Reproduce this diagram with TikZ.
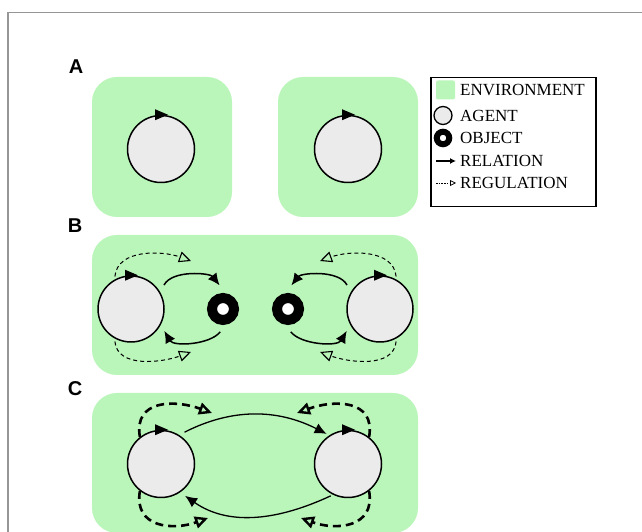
\documentclass[tikz,border=0pt]{standalone}
\usepackage{fontspec}
\setmainfont{Liberation Serif}
\newfontfamily\panelfont{Liberation Sans}
\usetikzlibrary{arrows.meta}

\definecolor{envgreen}{RGB}{186,245,186}
\definecolor{agentgray}{RGB}{235,235,235}
\definecolor{framegray}{RGB}{150,150,150}

% small filled triangle on top of an agent, showing its own cycle
\newcommand{\agentmark}[1]{%
  \fill ([shift={(-6,5.5)}]#1.north) -- ([shift={(7,0)}]#1.north) -- ([shift={(-6,-5.5)}]#1.north) -- cycle;}

\begin{document}
\begin{tikzpicture}[x=1pt,y=1pt,
  env/.style={fill=envgreen, rounded corners=25pt},
  agent/.style={circle, draw=black, line width=1.5pt, fill=agentgray, minimum size=67pt, inner sep=0pt},
  obj/.style={circle, draw=black, fill=white, line width=10pt, minimum size=22pt, inner sep=0pt},
  rel/.style={line width=1.5pt, -{Latex[length=12pt,width=11pt]}},
  reg/.style={line width=1pt, dash pattern=on 4pt off 3pt, -{Triangle[open,length=12pt,width=11pt,line width=1.1pt]}},
  regthick/.style={line width=2.6pt, dash pattern=on 8pt off 5pt, -{Triangle[open,length=13pt,width=12pt,line width=2.4pt]}},
  panel/.style={font=\panelfont\bfseries\fontsize{20}{24}\selectfont, inner sep=0pt},
  lgtext/.style={font=\fontsize{17}{20}\selectfont, anchor=west, inner sep=0pt}
]
\useasboundingbox (0,0) rectangle (642,532);

% frame
\draw[framegray, line width=1.2pt] (8,0) -- (8,519.5) -- (642,519.5);

% panel letters
\node[panel] (labA) at (76,465) {A};
\node[panel] (labB) at (75,306) {B};
\node[panel] (labC) at (75,143) {C};

% ---------------- panel A: two separate environments
\fill[env] (92,315) rectangle (232,455);
\fill[env] (278,315) rectangle (418,455);
\node[agent] (a1) at (161,383) {};
\node[agent] (a2) at (348,383) {};
\agentmark{a1}
\agentmark{a2}

% ---------------- panel B: agents acting on objects
\fill[env] (92,157) rectangle (418,297);
\node[agent, minimum size=66pt] (aL) at (131,223) {};
\node[agent, minimum size=66pt] (aR) at (380,223) {};
\node[obj] (oL) at (223,223) {};
\node[obj] (oR) at (288,223) {};
\agentmark{aL}
\agentmark{aR}

\draw[rel, shorten <=8pt, shorten >=10pt] (aL.30) to[out=62,in=128] (oL.80);
\draw[rel, shorten <=9pt, shorten >=7pt] (oL.280) to[out=232,in=300] (aL.-28);
\draw[rel, shorten <=8pt, shorten >=10pt] (aR.150) to[out=118,in=52] (oR.100);
\draw[rel, shorten <=9pt, shorten >=7pt] (oR.260) to[out=308,in=240] (aR.208);

\coordinate (tL1) at (191,271);
\coordinate (bL1) at (191,180);
\coordinate (tR1) at (320,271);
\coordinate (bR1) at (320,180);
\draw[reg, shorten <=3pt] (aL.119) to[out=85,in=160] (tL1);
\draw[reg, shorten <=3pt] (aL.-119) to[out=275,in=200] (bL1);
\draw[reg, shorten <=3pt] (aR.61) to[out=95,in=20] (tR1);
\draw[reg, shorten <=3pt] (aR.-61) to[out=265,in=340] (bR1);

% ---------------- panel C: agents relating to each other
\fill[env] (92,-1) rectangle (418,139);
\node[agent] (cL) at (161,68) {};
\node[agent] (cR) at (348,68) {};
\agentmark{cL}
\agentmark{cR}

\draw[rel, line width=1.3pt, shorten <=6pt, shorten >=3pt] (cL.58) to[out=27,in=153] (cR.123);
\draw[rel, line width=1.3pt, shorten <=2.5pt, shorten >=6pt] (cR.244) to[out=205,in=325] (cL.-56);

\coordinate (tC1) at (212,119);
\coordinate (bC1) at (208,14);
\coordinate (tC2) at (297,119);
\coordinate (bC2) at (301,14);
\draw[regthick] (cL.128) to[out=100,in=160,looseness=1.3] (tC1);
\draw[regthick] (cL.232) to[out=260,in=200,looseness=1.3] (bC1);
\draw[regthick] (cR.52) to[out=80,in=20,looseness=1.3] (tC2);
\draw[regthick] (cR.308) to[out=280,in=340,looseness=1.3] (bC2);

% ---------------- legend
\node[draw=black, line width=1.5pt, minimum width=165pt, minimum height=129pt,
      inner sep=0pt, anchor=north west] (legend) at (430,455) {};
\node[fill=envgreen, rounded corners=2pt, minimum size=19pt, inner sep=0pt] (lgEnv) at (445.5,442) {};
\node[agent, line width=1.3pt, minimum size=18pt] (lgAgent) at (443,416.5) {};
\node[obj, line width=6pt, minimum size=12.5pt] (lgObj) at (443,394) {};
\coordinate (lgR1) at (436,371);
\coordinate (lgR2) at (456,371);
\coordinate (lgG1) at (436,349);
\coordinate (lgG2) at (456,349);
\draw[line width=1.3pt, -{Latex[length=6pt,width=6pt]}] (lgR1) -- (lgR2);
\draw[line width=0.8pt, dash pattern=on 1.5pt off 1.2pt, -{Triangle[open,length=6pt,width=6pt]}] (lgG1) -- (lgG2);

\node[lgtext] (tEnv) at (460,442) {ENVIRONMENT};
\node[lgtext] (tAgent) at (460,416.5) {AGENT};
\node[lgtext] (tObj) at (460,394) {OBJECT};
\node[lgtext] (tRel) at (460,371) {RELATION};
\node[lgtext] (tReg) at (460,349) {REGULATION};
\end{tikzpicture}
\end{document}
